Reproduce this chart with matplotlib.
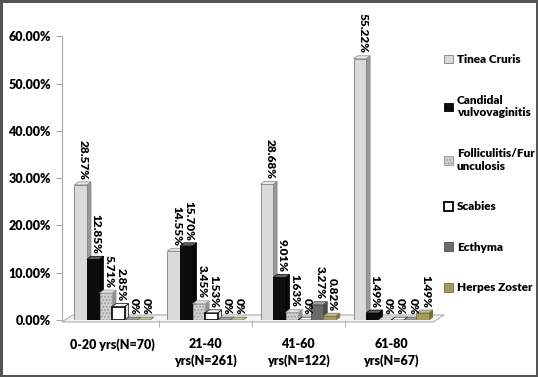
import numpy as np
import matplotlib
matplotlib.use('Agg')
import matplotlib.pyplot as plt
from matplotlib.patches import Polygon, Patch
import matplotlib.colors as mcolors

plt.rcParams['font.family'] = ['Lato', 'DejaVu Sans']
plt.rcParams['hatch.linewidth'] = 0.8

# age groups on the x axis
groups = ['0-20 yrs(N=70)', '21-40\nyrs(N=261)', '41-60\nyrs(N=122)', '61-80\nyrs(N=67)']

# percentages per diagnosis
tinea = [28.57, 14.55, 28.68, 55.22]
candidal = [12.85, 15.70, 9.01, 1.49]
follic = [5.71, 3.45, 1.63, 0]
scabies = [2.85, 1.53, 0, 0]
ecthyma = [0, 0, 3.27, 0]
herpes = [0, 0, 0.82, 1.49]

names = ['Tinea Cruris', 'Candidal\nvulvovaginitis', 'Folliculitis/Fur\nunculosis',
         'Scabies', 'Ecthyma', 'Herpes Zoster']
values = [tinea, candidal, follic, scabies, ecthyma, herpes]

# look of each series
face = ['#dadada', '#0d0d0d', '#cfcfcf', '#ffffff', '#6b6b6b', '#a39a5c']
edge = ['#808080', '#000000', '#9a9a9a', '#000000', '#4d4d4d', '#7a7040']
hatch = [None, None, '.....', None, None, None]
elw = [0.6, 0.6, 0.6, 1.2, 0.6, 0.6]

fig = plt.figure(figsize=(5.38, 3.77), dpi=100)
fig.patch.set_edgecolor('#555555')
fig.patch.set_linewidth(2.5)
ax = fig.add_axes([0.115, 0.151, 0.69, 0.753])

xmin, xmax = -0.54, 3.45
ymin, ymax = 0, 60
ax.set_xlim(xmin, xmax)
ax.set_ylim(ymin, ymax)

# pixel -> data scale, used for the fake 3d depth
bbox = ax.get_window_extent()
xs = bbox.width / (xmax - xmin)
ys = bbox.height / (ymax - ymin)
ddx, ddy = 4 / xs, 3 / ys

# floor
fdx, fdy = 11 / xs, 7 / ys
floor = Polygon([(xmin, -0.4), (xmax, -0.4), (xmax + fdx, -0.4 + fdy), (xmin + fdx, -0.4 + fdy)],
                closed=True, facecolor='#f4f4f4', edgecolor='#b0b0b0', lw=0.8,
                clip_on=False, zorder=0)
ax.add_patch(floor)

x = np.arange(len(groups))
w = 0.135
offs = (np.arange(len(names)) - 2.5) * w


def shade(c, f):
    r, g, b = mcolors.to_rgb(c)
    if f < 1:
        return (r * f, g * f, b * f)
    f = f - 1
    return (r + (1 - r) * f, g + (1 - g) * f, b + (1 - b) * f)


for i in range(len(names)):
    xc = x + offs[i]
    h = np.array(values[i])
    ax.bar(xc, h, width=w, color=face[i], edgecolor=edge[i], linewidth=elw[i],
           hatch=hatch[i], zorder=3 + i * 0.1)
    for xx, hh in zip(xc, h):
        x0, x1 = xx - w / 2, xx + w / 2
        side = Polygon([(x1, 0), (x1 + ddx, ddy), (x1 + ddx, hh + ddy), (x1, hh)],
                       facecolor=shade(face[i], 0.7 if i != 3 else 0.88),
                       edgecolor=edge[i], lw=0.5, zorder=2.9 + i * 0.1)
        top = Polygon([(x0, hh), (x0 + ddx, hh + ddy), (x1 + ddx, hh + ddy), (x1, hh)],
                      facecolor=shade(face[i], 1.35), edgecolor=edge[i], lw=0.5,
                      zorder=3.05 + i * 0.1)
        ax.add_patch(side)
        ax.add_patch(top)
        lab = '0%' if hh == 0 else f'{hh:.2f}%'
        ax.text(xx + ddx / 2 + 0.01, hh + ddy + 0.5, lab, rotation=-90, ha='center', va='bottom',
                fontsize=8.5, fontweight='heavy', color='black', zorder=10)

# axes styling
for s in ['top', 'right', 'bottom']:
    ax.spines[s].set_visible(False)
ax.spines['left'].set_color('#a6a6a6')
ax.set_yticks(np.arange(0, 61, 10))
ax.set_yticklabels([f'{v:.2f}%' for v in np.arange(0, 61, 10)], fontsize=9, fontweight='heavy')
ax.tick_params(axis='y', length=4, color='#a6a6a6', pad=4)

ax.set_xticks(x)
ax.set_xticklabels(groups, fontsize=9, fontweight='heavy', linespacing=1.35)
ax.set_xticks(x[:-1] + 0.5, minor=True)
ax.tick_params(axis='x', which='major', length=0, pad=13)
ax.tick_params(axis='x', which='minor', length=5, color='#a6a6a6', pad=0)

handles = [Patch(facecolor=face[i], edgecolor=edge[i], hatch=hatch[i],
                 linewidth=1.3 if i == 3 else 0.6) for i in range(len(names))]
leg = fig.legend(handles, names, loc='upper left', bbox_to_anchor=(0.815, 0.872),
                 frameon=False, handlelength=0.75, handleheight=0.75, handletextpad=0.3,
                 labelspacing=2.5, prop={'size': 8.5, 'weight': 'heavy'}, borderpad=0)

fig.savefig('out.png', dpi=100)
